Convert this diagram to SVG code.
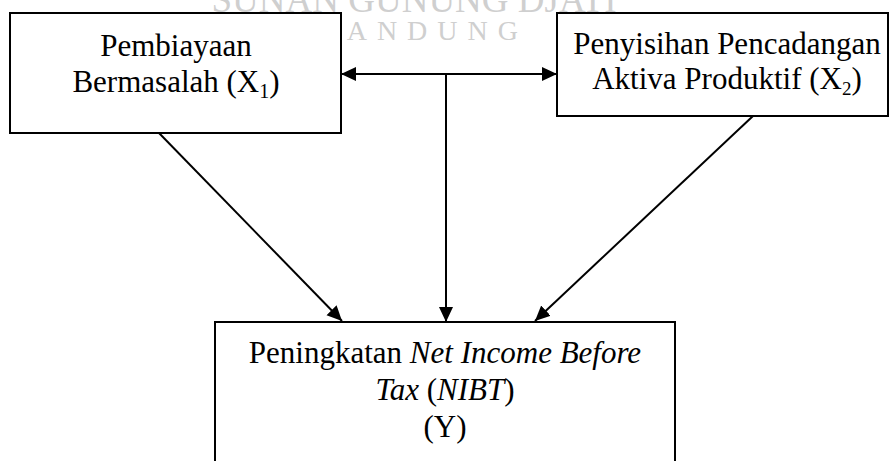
<svg xmlns="http://www.w3.org/2000/svg" width="889" height="461" viewBox="0 0 889 461">
  <style>
    .box { fill: #ffffff; stroke: #000000; stroke-width: 2; }
    .lbl { font-family: "Liberation Serif", "Times New Roman", serif; font-size: 31px; fill: #000000; text-anchor: middle; }
    .it { font-style: italic; }
    .wm { font-family: "Liberation Serif", "Times New Roman", serif; fill: #cfcfcf; }
    .conn { stroke: #000000; stroke-width: 2; fill: none; }
  </style>
  <defs>
    <marker id="arrow" markerUnits="userSpaceOnUse" markerWidth="16" markerHeight="16" viewBox="0 0 16 16" refX="15" refY="7" orient="auto-start-reverse">
      <path d="M0,0 L15,7 L0,14 Z" fill="#000000"/>
    </marker>
  </defs>
  <rect x="0" y="0" width="889" height="461" fill="#ffffff"/>
  <g id="watermark">
    <text class="wm" x="414" y="12" font-size="37" text-anchor="middle">SUNAN GUNUNG DJATI</text>
    <text class="wm" x="318" y="40" font-size="28" letter-spacing="10">BANDUNG</text>
  </g>
  <g id="connectors">
    <line class="conn" x1="341" y1="74" x2="557" y2="74" marker-start="url(#arrow)" marker-end="url(#arrow)"/>
    <line class="conn" x1="446" y1="74" x2="446" y2="322" marker-end="url(#arrow)"/>
    <line class="conn" x1="159" y1="133" x2="342" y2="321" marker-end="url(#arrow)"/>
    <line class="conn" x1="753" y1="116" x2="535" y2="321" marker-end="url(#arrow)"/>
  </g>
  <g id="node-x1">
    <rect class="box" x="10" y="13" width="331" height="120"/>
    <text class="lbl" x="176" y="56">Pembiayaan</text>
    <text class="lbl" x="176" y="92">Bermasalah (X<tspan font-size="20" dy="6">1</tspan><tspan dy="-6">)</tspan></text>
  </g>
  <g id="node-x2">
    <rect class="box" x="557" y="13" width="331" height="103"/>
    <text class="lbl" x="727" y="54" font-size="29.5">Penyisihan Pencadangan</text>
    <text class="lbl" x="727" y="89" font-size="29.5">Aktiva Produktif (X<tspan font-size="19" dy="6">2</tspan><tspan dy="-6">)</tspan></text>
  </g>
  <g id="node-y">
    <rect class="box" x="215" y="322" width="460" height="150"/>
    <text class="lbl" x="445" y="363" font-size="32">Peningkatan <tspan class="it">Net Income Before</tspan></text>
    <text class="lbl" x="445" y="400" font-size="32"><tspan class="it">Tax</tspan> (<tspan class="it">NIBT</tspan>)</text>
    <text class="lbl" x="445" y="437" font-size="32">(Y)</text>
  </g>
</svg>
